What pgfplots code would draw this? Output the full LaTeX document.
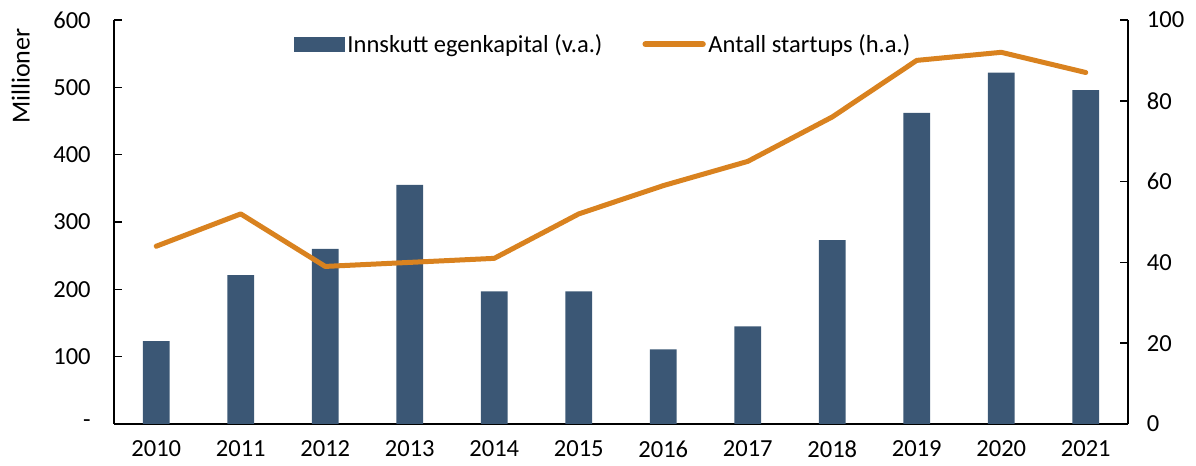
\documentclass[border=0pt]{standalone}
\usepackage{fontspec}
\setmainfont{Carlito}
\usepackage{pgfplots}
\pgfplotsset{compat=1.18}
\definecolor{barblue}{RGB}{59,87,117}
\definecolor{lineorange}{RGB}{217,130,31}
\begin{document}
\begin{tikzpicture}[font=\fontsize{18.4pt}{22pt}\selectfont]
\useasboundingbox (-85.5pt,-31.5pt) rectangle (811.5pt,318pt);
\pgfplotsset{
  every axis/.append style={scale only axis, width=760.5pt, height=303pt,
    xmin=-0.5, xmax=11.5, at={(0,0)}, anchor=south west,
    /pgf/number format/assume math mode=true,
    axis line style={line width=1.2pt},
    tick style={line width=1.2pt, black},
    major tick length=5.7pt,
    tick align=inside}
}
\begin{axis}[
  axis x line*=bottom, axis y line*=left,
  ymin=0, ymax=600, ytick={0,100,...,600},
  yticklabels={-,100,200,300,400,500,600},
  yticklabel style={xshift=-14pt},
  xtick={0,...,11},
  xticklabels={2010,2011,2012,2013,2014,2015,2016,2017,2018,2019,2020,2021},
  xticklabel style={yshift=-9pt},
  x tick style={draw=none},
  ylabel={Millioner},
  ylabel style={at={(axis description cs:-0.092,0.861)}, anchor=center, font=\fontsize{19.5pt}{22pt}\selectfont},
]
\addplot[ybar, bar width=20pt, fill=barblue, draw=none] coordinates {
(0,123) (1,221) (2,260) (3,355) (4,197) (5,197) (6,111) (7,145) (8,273) (9,462) (10,522) (11,496)};
\end{axis}
\begin{axis}[
  axis x line=none, axis y line*=right,
  ymin=0, ymax=100, ytick={0,20,...,100},
  yticklabel style={xshift=10.7pt},
  legend columns=2,
  legend style={draw=none, fill=none, at={(0.1736,0.94)}, anchor=west,
    /tikz/every even column/.append style={column sep=28pt}},
]
\addlegendimage{legend image code/.code={\fill[barblue] (0pt,-5pt) rectangle (37.5pt,5pt);}}
\addlegendentry{Innskutt egenkapital (v.a.)}
\addplot[lineorange, line width=3.75pt, line cap=round, line join=round,
  legend image code/.code={\draw[lineorange, line width=4.5pt, line cap=round] (0pt,0pt) -- (43pt,0pt);}]
  coordinates {
(0,44) (1,52) (2,39) (3,40) (4,41) (5,52) (6,59) (7,65) (8,76) (9,90) (10,92) (11,87)};
\addlegendentry{Antall startups (h.a.)}
\end{axis}
\end{tikzpicture}
\end{document}
